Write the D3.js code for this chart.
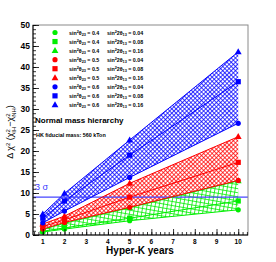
<!DOCTYPE html>
<html>
<head>
<meta charset="utf-8">
<script src="https://cdn.jsdelivr.net/npm/d3@7"></script>
<style>
  html, body { margin: 0; padding: 0; background: #fff; }
  svg { display: block; font-family: "Liberation Sans", Arial, sans-serif; }
</style>
</head>
<body>
<div id="chart"></div>
<script>
// years de exposición
const years = [1, 2, 5, 10];

// Δχ² por combinación (sin²θ23, sin²2θ13)
const s23 = [0.4, 0.4, 0.4, 0.5, 0.5, 0.5, 0.6, 0.6, 0.6];
const s13 = [0.04, 0.08, 0.16, 0.04, 0.08, 0.16, 0.04, 0.08, 0.16];
const dchi2 = [
  [0.7, 1.4, 3.4, 6.0],
  [0.9, 1.7, 4.0, 8.1],
  [1.3, 2.8, 6.5, 12.9],
  [1.4, 3.0, 6.6, 13.0],
  [2.0, 3.6, 9.0, 17.3],
  [2.6, 4.5, 12.3, 23.4],
  [2.9, 5.7, 13.7, 26.6],
  [4.0, 8.1, 19.0, 36.5],
  [5.0, 9.9, 22.6, 43.6]
];
const colores = ['#00ee00', '#ff0000', '#0000ff'];
const marcadores = ['circle', 'square', 'triangle'];
const yTicks = [0, 5, 10, 15, 20, 25, 30, 35, 40, 45, 50];
const xTicks = [1, 2, 3, 4, 5, 6, 7, 8, 9, 10];
const sigma3 = 9;

const W = 276, H = 262;
const m = { left: 33, right: 248, top: 25, bottom: 235 };

const svg = d3.select('#chart').append('svg')
  .attr('width', W).attr('height', H);

const x = d3.scaleLinear().domain([0.55, 10.45]).range([m.left, m.right]);
const y = d3.scaleLinear().domain([0, 50]).range([m.bottom, m.top]);

// patrones de relleno (hatch)
const defs = svg.append('defs');
colores.forEach((c, i) => {
  const p = defs.append('pattern')
    .attr('id', 'hatch' + i)
    .attr('patternUnits', 'userSpaceOnUse');
  if (i === 0) {
    p.attr('width', 4).attr('height', 4)
      .attr('patternTransform', 'rotate(10)');
    p.append('path').attr('d', 'M0,0.5 H4 M0.5,0 V4')
      .attr('stroke', c).attr('stroke-width', 0.8);
  } else {
    p.attr('width', 3).attr('height', 3)
      .attr('patternTransform', 'rotate(45)');
    p.append('path').attr('d', 'M0,0.5 H3 M0.5,0 V3')
      .attr('stroke', c).attr('stroke-width', 0.75);
  }
});

// bandas entre 0.04 y 0.16
[2, 1, 0].forEach(g => {
  const lo = dchi2[g * 3], hi = dchi2[g * 3 + 2];
  const area = d3.area()
    .x((d, i) => x(years[i]))
    .y0((d, i) => y(lo[i]))
    .y1((d, i) => y(hi[i]));
  svg.append('path')
    .datum(years)
    .attr('d', area)
    .attr('fill', `url(#hatch${g})`)
    .attr('stroke', 'none');
});

// línea 3 sigma
svg.append('line')
  .attr('x1', m.left).attr('x2', m.right)
  .attr('y1', y(sigma3)).attr('y2', y(sigma3))
  .attr('stroke', '#4646ff').attr('stroke-width', 1.3);
svg.append('text')
  .attr('x', 35).attr('y', y(sigma3) - 7)
  .attr('font-size', 9).attr('fill', '#3a3aff')
  .text('3 σ');

// líneas y marcadores
const linea = d3.line().x((d, i) => x(years[i])).y(d => y(d));
dchi2.forEach((serie, k) => {
  const c = colores[Math.floor(k / 3)];
  svg.append('path')
    .attr('d', linea(serie))
    .attr('fill', 'none')
    .attr('stroke', c).attr('stroke-width', 1);
});

function marker(g, tipo, cx, cy, c) {
  if (tipo === 'circle') {
    g.append('circle').attr('cx', cx).attr('cy', cy).attr('r', 2.6).attr('fill', c);
  } else if (tipo === 'square') {
    g.append('rect').attr('x', cx - 2.6).attr('y', cy - 2.6)
      .attr('width', 5.2).attr('height', 5.2).attr('fill', c);
  } else {
    g.append('path')
      .attr('d', `M${cx},${cy - 3.6} L${cx + 3.4},${cy + 2.4} L${cx - 3.4},${cy + 2.4} Z`)
      .attr('fill', c);
  }
}

const gm = svg.append('g');
dchi2.forEach((serie, k) => {
  const c = colores[Math.floor(k / 3)];
  serie.forEach((v, i) => marker(gm, marcadores[k % 3], x(years[i]), y(v), c));
});

// marco
svg.append('rect')
  .attr('x', m.left).attr('y', m.top)
  .attr('width', m.right - m.left).attr('height', m.bottom - m.top)
  .attr('fill', 'none').attr('stroke', '#8a8a8a').attr('stroke-width', 1);

// ejes (ticks hacia dentro, estilo ROOT)
svg.append('g').attr('transform', `translate(${m.left},0)`)
  .call(d3.axisRight(y).tickValues(yTicks).tickSize(6).tickFormat(''));
svg.append('g').attr('transform', `translate(${m.left},0)`)
  .call(d3.axisRight(y).tickValues(d3.range(0, 51, 1)).tickSize(3).tickFormat(''));

svg.append('g').attr('transform', `translate(0,${m.bottom})`)
  .call(d3.axisTop(x).tickValues(xTicks).tickSize(6).tickFormat(''));
svg.append('g').attr('transform', `translate(0,${m.bottom})`)
  .call(d3.axisTop(x).tickValues(d3.range(0.6, 10.41, 0.2)).tickSize(3).tickFormat(''));
svg.selectAll('.domain').remove();
svg.selectAll('.tick line').attr('stroke', '#000').attr('stroke-width', 0.8);

svg.append('line').attr('x1', m.left).attr('x2', m.left)
  .attr('y1', m.top).attr('y2', m.bottom).attr('stroke', '#000');
svg.append('line').attr('x1', m.left).attr('x2', m.right)
  .attr('y1', m.bottom).attr('y2', m.bottom).attr('stroke', '#000');

// etiquetas de ticks
svg.append('g').selectAll('text')
  .data(yTicks).join('text')
  .attr('x', m.left - 3).attr('y', d => y(d) + 3)
  .attr('text-anchor', 'end')
  .attr('font-size', 8.5).attr('font-weight', 'bold')
  .text(d => d);
svg.append('g').selectAll('text')
  .data(xTicks).join('text')
  .attr('x', d => x(d)).attr('y', m.bottom + 9)
  .attr('text-anchor', 'middle')
  .attr('font-size', 6.5).attr('font-weight', 'bold')
  .text(d => d);

// títulos de ejes
svg.append('text')
  .attr('x', 140).attr('y', 254)
  .attr('text-anchor', 'middle')
  .attr('font-size', 10).attr('font-weight', 'bold')
  .text('Hyper-K years');

const yl = svg.append('text')
  .attr('transform', 'translate(13,132) rotate(-90)')
  .attr('text-anchor', 'middle')
  .attr('font-size', 9);
yl.append('tspan').text('Δ χ');
yl.append('tspan').attr('font-size', 6).attr('dy', -3).text('2');
yl.append('tspan').attr('dy', 3).text(' (χ');
yl.append('tspan').attr('font-size', 6).attr('dy', -3).text('2');
yl.append('tspan').attr('font-size', 6).attr('dx', -3.5).attr('dy', 6).text('IH');
yl.append('tspan').attr('dy', -3).text('−χ');
yl.append('tspan').attr('font-size', 6).attr('dy', -3).text('2');
yl.append('tspan').attr('font-size', 6).attr('dx', -3.5).attr('dy', 6).text('NH');
yl.append('tspan').attr('dy', -3).text(')');

// leyenda
const leg = svg.append('g');
s23.forEach((a, k) => {
  const ly = 32.5 + k * 9.05;
  marker(leg, marcadores[k % 3], 55, ly, colores[Math.floor(k / 3)]);
  const t = leg.append('text')
    .attr('x', 69).attr('y', ly + 2)
    .attr('font-size', 5.3).attr('font-weight', 'bold');
  t.append('tspan').text('sin');
  t.append('tspan').attr('font-size', 3.8).attr('dy', -2).text('2');
  t.append('tspan').attr('dy', 2).text('θ');
  t.append('tspan').attr('font-size', 3.8).attr('dy', 1.3).text('23');
  t.append('tspan').attr('dy', -1.3).text(` = ${a}`);
  const t2 = leg.append('text')
    .attr('x', 107).attr('y', ly + 2)
    .attr('font-size', 5.3).attr('font-weight', 'bold');
  t2.append('tspan').text('sin');
  t2.append('tspan').attr('font-size', 3.8).attr('dy', -2).text('2');
  t2.append('tspan').attr('dy', 2).text('2θ');
  t2.append('tspan').attr('font-size', 3.8).attr('dy', 1.3).text('13');
  t2.append('tspan').attr('dy', -1.3).text(` = ${s13[k]}`);
});

svg.append('text')
  .attr('x', 35).attr('y', 123)
  .attr('font-size', 8).attr('font-weight', 'bold')
  .text('Normal mass hierarchy');
svg.append('text')
  .attr('x', 36).attr('y', 137)
  .attr('font-size', 5.4).attr('font-weight', 'bold')
  .text('HK fiducial mass: 560 kTon');
</script>
</body>
</html>
